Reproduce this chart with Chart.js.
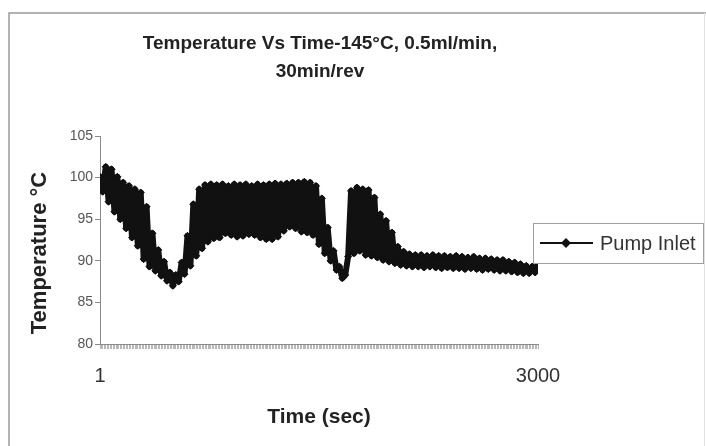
<!DOCTYPE html>
<html>
<head>
<meta charset="utf-8">
<script src="https://cdn.jsdelivr.net/npm/chart.js@4.4.1/dist/chart.umd.min.js"></script>
<style>
  html, body { margin: 0; padding: 0; background: #fff; }
  #wrap { width: 706px; height: 446px; }
</style>
</head>
<body>
<div id="wrap"><canvas id="tempChart" width="706" height="446"></canvas></div>
<script>
// logged time (s) and pump inlet temperature (°C)
const seconds = [
  1, 20, 40, 60, 80, 100, 120, 140, 160, 180,
  200, 220, 240, 260, 280, 300, 320, 340, 360, 380,
  400, 420, 440, 460, 480, 500, 520, 540, 560, 580,
  600, 620, 640, 660, 680, 700, 720, 740, 760, 780,
  800, 820, 840, 860, 880, 900, 920, 940, 960, 980,
  1000, 1020, 1040, 1060, 1080, 1100, 1120, 1140, 1160, 1180,
  1200, 1220, 1240, 1260, 1280, 1300, 1320, 1340, 1360, 1380,
  1400, 1420, 1440, 1460, 1480, 1500, 1520, 1540, 1560, 1580,
  1600, 1620, 1640, 1660, 1680, 1700, 1720, 1740, 1760, 1780,
  1800, 1820, 1840, 1860, 1880, 1900, 1920, 1940, 1960, 1980,
  2000, 2020, 2040, 2060, 2080, 2100, 2120, 2140, 2160, 2180,
  2200, 2220, 2240, 2260, 2280, 2300, 2320, 2340, 2360, 2380,
  2400, 2420, 2440, 2460, 2480, 2500, 2520, 2540, 2560, 2580,
  2600, 2620, 2640, 2660, 2680, 2700, 2720, 2740, 2760, 2780,
  2800, 2820, 2840, 2860, 2880, 2900, 2920, 2940, 2960, 2980,
  3000
];
const pumpInlet = [
  100.1, 98.3, 101.3, 97.1, 101.0, 95.9, 100.1, 95.0, 99.4, 93.9,
  99.0, 92.8, 98.6, 91.8, 98.2, 90.2, 96.5, 89.3, 93.3, 88.8,
  91.3, 88.2, 89.9, 87.6, 88.6, 87.0, 88.3, 87.5, 89.8, 88.4,
  93.0, 89.4, 96.8, 90.6, 98.6, 91.5, 99.1, 92.3, 99.2, 92.7,
  99.1, 92.8, 99.2, 93.3, 99.0, 93.1, 99.2, 92.9, 99.1, 93.0,
  99.2, 93.2, 99.0, 93.1, 99.2, 92.8, 99.1, 92.6, 99.2, 92.6,
  99.3, 92.9, 99.2, 93.6, 99.3, 94.1, 99.4, 93.9, 99.4, 93.5,
  99.5, 93.4, 99.4, 93.1, 99.0, 92.0, 97.5, 90.9, 94.0, 90.0,
  91.2, 88.9, 89.3, 87.9, 88.3, 90.5, 98.4, 90.9, 98.8, 91.2,
  98.6, 90.7, 98.5, 90.6, 97.6, 90.4, 95.6, 90.1, 94.8, 89.9,
  93.4, 89.7, 91.7, 89.5, 91.1, 89.4, 90.8, 89.3, 90.7, 89.3,
  90.7, 89.2, 90.6, 89.3, 90.7, 89.2, 90.6, 89.1, 90.6, 89.2,
  90.5, 89.1, 90.6, 89.1, 90.5, 89.0, 90.4, 89.1, 90.5, 89.0,
  90.3, 88.9, 90.3, 89.0, 90.2, 88.9, 90.1, 88.8, 90.1, 88.8,
  89.9, 88.7, 89.8, 88.6, 89.6, 88.5, 89.4, 88.5, 89.3, 88.6,
  89.6
];
const xTickLabels = [1, 3000];
const yTicks = [80, 85, 90, 95, 100, 105];
const titleLines = ['Temperature Vs Time-145°C, 0.5ml/min,', '30min/rev'];
const yAxisTitle = 'Temperature °C';

const FONT = '"Liberation Sans", Arial, sans-serif';
Chart.defaults.font.family = FONT;

// outer chart frame
const chartFrame = {
  id: 'chartFrame',
  beforeDraw(chart) {
    const ctx = chart.ctx;
    ctx.save();
    ctx.fillStyle = '#fff';
    ctx.fillRect(0, 0, chart.width, chart.height);
    ctx.strokeStyle = '#9a9a9a';
    ctx.lineWidth = 1.5;
    ctx.beginPath();
    ctx.moveTo(9, chart.height);
    ctx.lineTo(9, 13);
    ctx.lineTo(chart.width, 13);
    ctx.stroke();
    ctx.strokeStyle = '#e2e2e2';
    ctx.lineWidth = 1;
    ctx.beginPath();
    ctx.moveTo(704.5, 13);
    ctx.lineTo(704.5, chart.height);
    ctx.stroke();
    ctx.restore();
  }
};

// two-line title and the rotated value-axis title, placed by hand
const frameTitles = {
  id: 'frameTitles',
  afterDraw(chart) {
    const ctx = chart.ctx;
    ctx.save();
    ctx.fillStyle = '#222';
    ctx.font = 'bold 19px ' + FONT;
    ctx.textAlign = 'center';
    ctx.textBaseline = 'middle';
    titleLines.forEach((line, i) => ctx.fillText(line, 320, 44 + i * 28));

    ctx.font = 'bold 22px ' + FONT;
    ctx.translate(40, 253);
    ctx.rotate(-Math.PI / 2);
    ctx.fillText(yAxisTitle, 0, 0);
    ctx.restore();
  }
};

// boxed legend sitting over the right end of the plot
const pumpLegend = {
  id: 'pumpLegend',
  afterDraw(chart) {
    const ctx = chart.ctx;
    const ds = chart.data.datasets[0];
    const left = chart.chartArea.right - 5;
    const top = 223;
    const w = 170, h = 40;
    const midY = top + h / 2;
    ctx.save();
    ctx.fillStyle = '#fff';
    ctx.fillRect(left, top, w, h);
    ctx.strokeStyle = '#a0a0a0';
    ctx.lineWidth = 1;
    ctx.strokeRect(left + 0.5, top + 0.5, w, h);
    ctx.strokeStyle = '#111';
    ctx.lineWidth = 2;
    ctx.beginPath();
    ctx.moveTo(left + 7, midY);
    ctx.lineTo(left + 60, midY);
    ctx.stroke();
    ctx.fillStyle = '#111';
    ctx.beginPath();
    ctx.moveTo(left + 33, midY - 5);
    ctx.lineTo(left + 38, midY);
    ctx.lineTo(left + 33, midY + 5);
    ctx.lineTo(left + 28, midY);
    ctx.closePath();
    ctx.fill();
    ctx.fillStyle = '#333';
    ctx.font = '20px ' + FONT;
    ctx.textBaseline = 'middle';
    ctx.fillText(ds.label, left + 67, midY + 1);
    ctx.restore();
  }
};

new Chart(document.getElementById('tempChart'), {
  type: 'line',
  data: {
    datasets: [{
      label: 'Pump Inlet',
      data: seconds.map((t, i) => ({ x: t, y: pumpInlet[i] })),
      borderColor: '#111',
      backgroundColor: '#111',
      borderWidth: 6,
      borderJoinStyle: 'round',
      borderCapStyle: 'round',
      pointStyle: 'rectRot',
      pointRadius: 3.5,
      pointBorderWidth: 1,
      pointBackgroundColor: '#111',
      pointBorderColor: '#111',
      tension: 0
    }]
  },
  options: {
    responsive: false,
    animation: false,
    layout: { padding: { left: 0, right: 168, top: 136, bottom: 0 } },
    plugins: {
      legend: { display: false },
      tooltip: { enabled: false },
      title: { display: false }
    },
    scales: {
      x: {
        type: 'linear',
        min: 1,
        max: 3000,
        afterBuildTicks: (axis) => {
          const ticks = [];
          for (let v = 1; v < 3000; v += 10) ticks.push({ value: v });
          ticks.push({ value: 3000 });
          axis.ticks = ticks;
        },
        ticks: {
          autoSkip: false,
          maxRotation: 0,
          padding: 15,
          color: '#333',
          font: { size: 20 },
          callback: (v) => xTickLabels.includes(v) ? String(v) : ''
        },
        grid: { drawOnChartArea: false, drawTicks: true, tickLength: 5, color: '#b8b8b8' },
        border: { color: '#8a8a8a', width: 1 },
        title: {
          display: true,
          text: 'Time (sec)',
          color: '#222',
          font: { size: 21, weight: 'bold' },
          padding: 16
        },
        afterFit: (scale) => { scale.height = 102; }
      },
      y: {
        min: 80,
        max: 105,
        afterBuildTicks: (axis) => {
          axis.ticks = yTicks.map(v => ({ value: v }));
        },
        ticks: { padding: 2, color: '#555', font: { size: 14 } },
        grid: { drawOnChartArea: false, drawTicks: true, tickLength: 5, color: '#8a8a8a' },
        border: { color: '#8a8a8a', width: 1 },
        afterFit: (scale) => { scale.width = 100; }
      }
    }
  },
  plugins: [chartFrame, frameTitles, pumpLegend]
});
</script>
</body>
</html>
